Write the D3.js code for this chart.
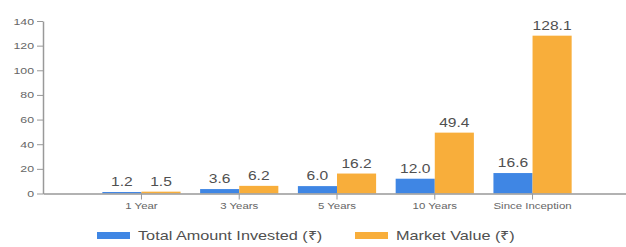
<!DOCTYPE html>
<html>
<head>
<meta charset="utf-8">
<script src="https://cdn.jsdelivr.net/npm/d3@7"></script>
<style>
  body { margin: 0; background: #fff; }
  svg { font-family: "Liberation Sans", Arial, sans-serif; }
</style>
</head>
<body>
<div id="chart"></div>
<script>
// Data
const periods = ["1 Year", "3 Years", "5 Years", "10 Years", "Since Inception"];
const invested = [1.2, 3.6, 6.0, 12.0, 16.6];
const marketValue = [1.5, 6.2, 16.2, 49.4, 128.1];
const seriesNames = ["Total Amount Invested (\u20B9)", "Market Value (\u20B9)"];
const yTicks = [0, 20, 40, 60, 80, 100, 120, 140];

const width = 626;
const height = 247;
const colors = ["#3f86e4", "#f8ae3b"];
// the reference's text is drawn wide, so every label gets a horizontal stretch
const stretch = 1.3;

const svg = d3.select("#chart").append("svg")
  .attr("width", width)
  .attr("height", height);

// Scales
const x0 = d3.scaleBand()
  .domain(periods)
  .range([43, 631])
  .paddingInner(0.2)
  .paddingOuter(0.607);

const x1 = d3.scaleBand()
  .domain([0, 1])
  .range([0, x0.bandwidth()]);

const y = d3.scaleLinear()
  .domain([0, 140])
  .range([193.5, 21]);

// Bars
const rows = periods.map((p, i) => ({ period: p, values: [invested[i], marketValue[i]] }));

const groups = svg.append("g")
  .selectAll("g")
  .data(rows)
  .enter()
  .append("g")
    .attr("transform", d => `translate(${x0(d.period)},0)`);

groups.selectAll("rect")
  .data(d => d.values)
  .enter()
  .append("rect")
    .attr("x", (d, i) => x1(i))
    .attr("y", d => y(d))
    .attr("width", x1.bandwidth())
    .attr("height", d => y(0) - y(d))
    .attr("fill", (d, i) => colors[i]);

// Value labels
groups.selectAll("text")
  .data(d => d.values)
  .enter()
  .append("text")
    .attr("transform", (d, i) =>
      `translate(${x1(i) + x1.bandwidth() / 2},${y(d) - 6}) scale(${stretch},1)`)
    .attr("text-anchor", "middle")
    .attr("font-size", 12)
    .attr("fill", "#505050")
    .text(d => d.toFixed(1));

// Axes
const xAxis = svg.append("g")
  .attr("transform", `translate(0,${y(0)})`)
  .call(d3.axisBottom(x0).tickSizeOuter(0));
xAxis.selectAll("text")
  .attr("font-size", 8.8)
  .attr("transform", `scale(${stretch},1)`)
  .attr("fill", "#666");

const yAxis = svg.append("g")
  .attr("transform", "translate(43,0)")
  .call(d3.axisLeft(y).tickValues(yTicks).tickSizeOuter(0));
yAxis.selectAll("text")
  .attr("font-size", 9.5)
  .attr("x", -9 / stretch)
  .attr("transform", `scale(${stretch},1)`)
  .attr("fill", "#666");

svg.selectAll(".domain, .tick line").attr("stroke", "#999");
svg.selectAll(".domain").attr("stroke-width", 1.5);

// Legend
const legendX = [97, 355];
seriesNames.forEach((name, i) => {
  svg.append("rect")
    .attr("x", legendX[i])
    .attr("y", 232)
    .attr("width", 33)
    .attr("height", 7)
    .attr("fill", colors[i]);
  svg.append("text")
    .attr("transform", `translate(${legendX[i] + 41},240) scale(${stretch},1)`)
    .attr("font-size", 12.5)
    .attr("fill", "#505050")
    .text(name);
});
</script>
</body>
</html>
